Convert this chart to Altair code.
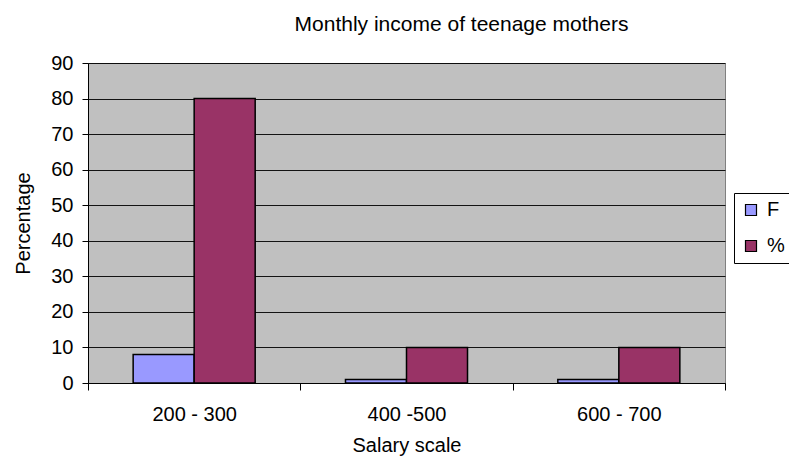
import altair as alt
import pandas as pd

categories = ["200 - 300", "400 -500", "600 - 700"]
series = ["F", "%"]
f_values = [8, 1, 1]
pct_values = [80, 10, 10]

rows = []
for c, fv, pv in zip(categories, f_values, pct_values):
    rows.append({"scale": c, "series": "F", "value": fv})
    rows.append({"scale": c, "series": "%", "value": pv})
df = pd.DataFrame(rows)

FONT = "Liberation Sans"
FS = 20

chart = alt.Chart(df).mark_bar(stroke="black", strokeWidth=1.5).encode(
    x=alt.X("scale:N", sort=categories,
            scale=alt.Scale(paddingInner=0, paddingOuter=0),
            axis=alt.Axis(title="Salary scale", labelAngle=0, tickBand="extent",
                          labelPadding=14, titlePadding=11, domainColor="black",
                          tickColor="black", tickSize=7, grid=False)),
    xOffset=alt.XOffset("series:N", sort=series,
                        scale=alt.Scale(paddingInner=0, paddingOuter=0.74)),
    y=alt.Y("value:Q", scale=alt.Scale(domain=[0, 90]),
            axis=alt.Axis(title="Percentage", values=list(range(0, 91, 10)),
                          domainColor="black", tickColor="black", tickSize=6,
                          labelPadding=9, gridColor="black", gridOpacity=0.9,
                          titlePadding=17)),
    color=alt.Color("series:N", sort=series,
                    scale=alt.Scale(domain=series, range=["#9999FF", "#993366"]),
                    legend=alt.Legend(title=None, orient="none", legendX=646, legendY=130,
                                      symbolType="square", symbolSize=121,
                                      symbolStrokeColor="black", symbolStrokeWidth=1.2,
                                      strokeColor="black", fillColor="white",
                                      padding=7, rowPadding=16, labelOffset=6,
                                      labelFontSize=FS, labelFont=FONT, labelColor="black")),
).properties(
    width=637,
    height=320,
    title=alt.Title("Monthly income of teenage mothers", font=FONT, fontSize=21,
                    fontWeight="normal", color="black", anchor="middle", dx=55, offset=18),
    autosize=alt.AutoSizeParams(type="none"),
    padding={"left": 80, "top": 55, "right": 64, "bottom": 77},
).configure_view(
    fill="#C0C0C0", stroke="#808080", strokeWidth=1
).configure_axis(
    labelFont=FONT, labelFontSize=FS, labelColor="black",
    titleFont=FONT, titleFontSize=FS, titleFontWeight="normal", titleColor="black",
)

chart.save("out.html", embed_options={"renderer": "svg", "actions": False})
